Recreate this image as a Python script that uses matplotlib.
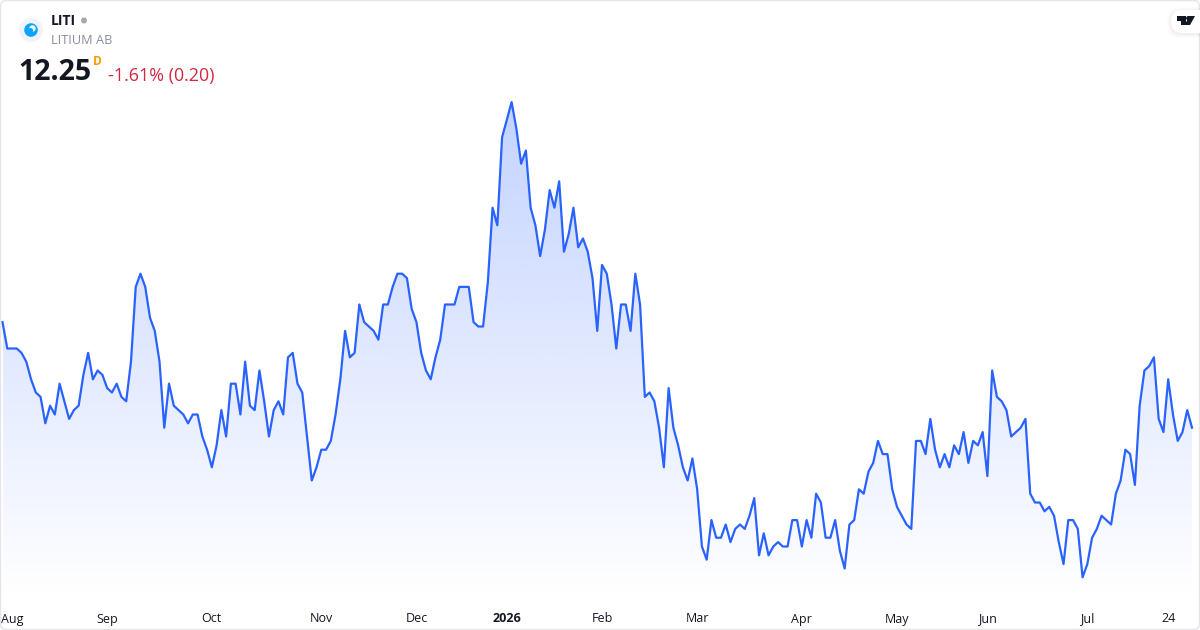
import numpy as np
import matplotlib
matplotlib.use("Agg")
import matplotlib.pyplot as plt
from matplotlib.patches import Circle, FancyBboxPatch, Polygon

plt.rcParams['font.family'] = ['Open Sans', 'DejaVu Sans']

ticker = "LITI"
company = "LITIUM AB"
last_price = "12.25"
change_text = "-1.61% (0.20)"

# daily close (tick size 0.05)
prices_aug_oct = [
    13.45, 13.15, 13.15, 13.15, 13.10, 13.00, 12.80, 12.65, 12.60, 12.30, 12.50, 12.40,
    12.75, 12.55, 12.35, 12.45, 12.50, 12.85, 13.10, 12.80, 12.90, 12.85, 12.70, 12.65,
    12.75, 12.60, 12.55, 13.00, 13.85, 14.00, 13.85, 13.50, 13.35, 13.00, 12.25, 12.75,
    12.50, 12.45, 12.40, 12.30, 12.40, 12.40, 12.15, 12.00, 11.80, 12.05, 12.45, 12.15,
    12.75, 12.75, 12.40, 13.00, 12.50, 12.45, 12.90, 12.55, 12.15, 12.45, 12.55, 12.40,
    13.05, 13.10, 12.75, 12.65,
]
prices_nov_dec = [
    12.15, 11.65, 11.80, 12.00, 12.00, 12.10, 12.40, 12.80, 13.35, 13.05, 13.10, 13.65,
    13.45, 13.40, 13.35, 13.25, 13.65, 13.65, 13.85, 14.00, 14.00, 13.95, 13.60, 13.45,
    13.10, 12.90, 12.80, 13.05, 13.25, 13.65, 13.65, 13.65, 13.85, 13.85, 13.85, 13.45,
    13.40, 13.40,
]
prices_jan_feb = [
    13.90, 14.75, 14.55, 15.55, 15.75, 15.95, 15.65, 15.25, 15.40, 14.75, 14.55, 14.20,
    14.50, 14.95, 14.75, 15.05, 14.25, 14.45, 14.75, 14.30, 14.40, 14.25, 13.95, 13.35,
    14.10, 14.00, 13.65, 13.15, 13.65, 13.65, 13.35, 14.00, 13.65,
]
prices_mar_may = [
    12.60, 12.65, 12.55, 12.25, 11.80, 12.70, 12.25, 12.05, 11.80, 11.65, 11.90, 11.55,
    10.90, 10.75, 11.20, 11.00, 11.00, 11.15, 10.95, 11.10, 11.15, 11.10, 11.25, 11.45,
    10.80, 11.05, 10.80, 10.90, 10.95, 10.90, 10.90, 11.20, 11.20, 10.90, 11.20, 11.00,
    11.50, 11.40, 11.00, 11.00, 11.20, 10.85, 10.65, 11.15, 11.20, 11.55, 11.50, 11.75,
    11.85,
]
prices_may_jul = [
    12.10, 11.95, 11.95, 11.55, 11.35, 11.25, 11.15, 11.10, 12.10, 12.10, 11.95, 12.35,
    12.00, 11.80, 11.95, 11.80, 12.05, 11.95, 12.20, 11.85, 12.10, 12.05, 12.20, 11.70,
    12.90, 12.60, 12.55, 12.45, 12.15, 12.20, 12.25, 12.35, 11.50, 11.40, 11.40, 11.30,
    11.35, 11.25, 10.95, 10.70, 11.20, 11.20, 11.10, 10.55, 10.70, 11.00, 11.10, 11.25,
    11.20, 11.15, 11.50, 11.65, 12.00, 11.95, 11.60, 12.50, 12.90, 12.95, 13.05, 12.35,
    12.20, 12.80, 12.40, 12.10, 12.20, 12.45, 12.25,
]
prices = np.array(prices_aug_oct + prices_nov_dec + prices_jan_feb + prices_mar_may + prices_may_jul)

tick_labels = ["Aug", "Sep", "Oct", "Nov", "Dec", "2026", "Feb", "Mar", "Apr", "May", "Jun", "Jul", "24"]
tick_days = [2, 22, 44, 67, 87, 106, 126, 146, 168, 188, 207, 228, 245]

LINE = "#2962FF"
W, H = 1200, 630
PLOT_H = 600
days = np.arange(len(prices))
step = (1192 - 2.5) / (len(prices) - 1)
px_per_unit = 88.0
anchor_px = 427.7

fig = plt.figure(figsize=(W / 100, H / 100), dpi=100, facecolor="white")
ax = fig.add_axes([0, (H - PLOT_H) / H, 1, PLOT_H / H])
y_top = 12.25 + anchor_px / px_per_unit
y_bottom = 12.25 + (anchor_px - PLOT_H) / px_per_unit

# gradient area under the line
area = ax.fill_between(days, prices, y_bottom, color="none", linewidth=0)
grad = np.zeros((256, 2, 4))
grad[..., :3] = matplotlib.colors.to_rgb(LINE)
grad[..., 3] = np.linspace(0.28, 0.0, 256)[:, None]
img = ax.imshow(grad, extent=[days[0], days[-1], y_bottom, prices.max()],
                aspect="auto", interpolation="bilinear", origin="upper", zorder=1)
img.set_clip_path(area.get_paths()[0], ax.transData)
ax.set_xlim(-2.5 / step, (W - 2.5) / step)
ax.set_ylim(y_bottom, y_top)

ax.plot(days, prices, color=LINE, linewidth=1.6, zorder=2, solid_joinstyle="round")

for s in ax.spines.values():
    s.set_visible(False)
ax.set_yticks([])
ax.set_xticks(tick_days)
ax.set_xticklabels(tick_labels, fontsize=9.0, color="#131722")
ax.tick_params(axis="x", length=0, pad=9)
ax.get_xticklabels()[5].set_fontweight("bold")
ax.patch.set_alpha(0)

# header and chrome, in pixel coordinates
top = fig.add_axes([0, 0, 1, 1], facecolor="none")
top.axis("off")

frame = FancyBboxPatch((0.5, 0.5), W - 1, H - 1, boxstyle="round,pad=0,rounding_size=6",
                       fill=False, edgecolor="#E3E5EA", linewidth=1.0)
top.add_patch(frame)

top.add_patch(Circle((31, 30), 12, color="#F0F3FA", lw=0))
top.add_patch(Circle((31, 30), 6.8, color="#0BA5FF", lw=0))
top.add_patch(Circle((32.5, 28.5), 3.2, color="white", lw=0))
top.add_patch(Circle((30.5, 30.5), 2.6, color="#0BA5FF", lw=0))

top.text(51, 21, ticker, fontsize=10, fontweight="bold", color="#131722", va="center", ha="left")
top.add_patch(Circle((84, 20.5), 3, color="#A8A8A8", lw=0))
top.text(51, 41, company, fontsize=9.2, color="#8A8E99", va="center", ha="left")
top.text(18.5, 73, last_price, fontsize=20.5, fontweight="bold", color="#131722", va="center", ha="left")
top.text(93, 61.5, "D", fontsize=8.6, fontweight="bold", color="#FF9800", va="center", ha="left")
top.text(108, 75.5, change_text, fontsize=12.9, color="#D1293D", va="center", ha="left")

# logo badge, top right
for grow, a in [(4, 0.006), (3, 0.010), (2, 0.016), (1, 0.024)]:
    top.add_patch(FancyBboxPatch((1171 - grow, 10 - grow + 1), 50 + grow, 23 + 2 * grow,
                                 boxstyle="round,pad=0,rounding_size=11", color="black", alpha=a, lw=0))
top.add_patch(FancyBboxPatch((1171, 10), 50, 23, boxstyle="round,pad=0,rounding_size=11",
                             color="white", lw=0))
logo_t = [(1177, 16), (1186, 16), (1186, 25), (1181, 25), (1181, 20.5), (1177, 20.5)]
logo_v = [(1189.5, 16), (1195, 16), (1190, 25), (1184.5, 25)]
top.add_patch(Polygon(logo_t, closed=True, color="#131722", lw=0))
top.add_patch(Polygon(logo_v, closed=True, color="#131722", lw=0))
top.add_patch(Circle((1188.3, 18.2), 2.2, color="#131722", lw=0))
top.set_xlim(0, W)
top.set_ylim(H, 0)

fig.savefig("out.png", dpi=100)
